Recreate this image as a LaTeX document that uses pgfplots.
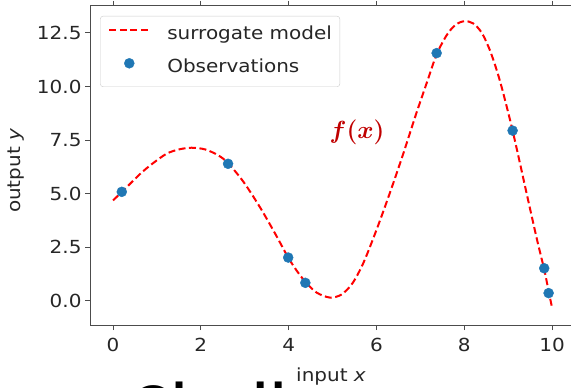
\documentclass[border=0pt]{standalone}
\usepackage{fontspec}
\setmainfont{DejaVu Sans}[FakeStretch=1.11]
\newfontfamily\carlito{Carlito}
\usepackage{pgfplots}
\pgfplotsset{compat=1.18}
\definecolor{mplblue}{RGB}{31,119,180}
\definecolor{fxred}{RGB}{192,0,0}
\newcommand\tfont{\fontsize{18bp}{21.6bp}\selectfont}
\begin{document}
\begin{tikzpicture}
\useasboundingbox (0,0) rectangle (571bp,388bp);
\clip (0,0) rectangle (571bp,388bp);
\begin{axis}[
  at={(90bp,63bp)}, anchor=south west,
  scale only axis, width=481bp, height=319bp,
  xmin=-0.524, xmax=10.43, ymin=-1.14, ymax=13.76,
  axis x line=box, axis y line*=left,
  axis line style={black!70, line width=1bp},
  xtick={0,2,4,6,8,10},
  ytick={0,2.5,5,7.5,10,12.5},
  tick align=outside, major tick length=5bp,
  every tick/.style={black!70, line width=1bp},
  tick label style={font=\tfont, text=black!85},
  xticklabel style={yshift=-5bp},
  /pgf/number format/assume math mode=true,
  yticklabel style={/pgf/number format/.cd, fixed, fixed zerofill, precision=1},
  xlabel={input {\itshape x}},
  ylabel={output {\itshape y}},
  every axis x label/.style={at={(axis description cs:0.501,0)}, anchor=base, yshift=-56bp, font=\tfont, text=black!85},
  every axis y label/.style={at={(axis description cs:0,0.483)}, anchor=center, rotate=90, yshift=74bp, font=\tfont, text=black!85},
  legend cell align=left,
  legend style={at={(0.021,0.969)}, anchor=north west, rounded corners=3bp,
    draw=black!20, fill=white, font=\tfont, text=black!85,
    inner xsep=8bp, inner ysep=10bp, row sep=15bp,
    nodes={inner sep=0pt, text height=13bp, text depth=4bp}},
]
\addplot[red, line width=2bp, dash pattern=on 7bp off 3.5bp, smooth, tension=0.5,
  legend image code/.code={\draw[line width=2bp, dash pattern=on 7bp off 3.5bp] (0bp,5bp) -- (40bp,5bp); \path (57bp,5bp);}]
  coordinates {
  (0.00,4.68) (0.20,5.07) (0.62,5.92) (0.90,6.40) (1.22,6.86) (1.50,7.06) (1.79,7.14)
  (2.10,7.06) (2.40,6.78) (2.62,6.42) (2.97,5.55) (3.35,4.35) (3.70,3.10)
  (3.99,2.01) (4.20,1.35) (4.40,0.83) (4.64,0.37) (4.94,0.14) (5.20,0.28)
  (5.45,0.80) (5.70,1.75) (6.00,3.30) (6.30,5.00) (6.60,6.80) (6.90,8.70)
  (7.15,10.20) (7.37,11.50) (7.60,12.40) (7.80,12.88) (8.00,13.05) (8.20,12.95)
  (8.40,12.50) (8.60,11.60) (8.82,10.20) (9.10,7.94) (9.42,5.00) (9.65,2.90)
  (9.82,1.45) (9.92,0.45) (10.00,-0.35)
  };
\addlegendentry{surrogate model}
\addplot[only marks, mark=*, mark size=5bp, mplblue, mark options={draw=mplblue, fill=mplblue},
  legend image code/.code={\fill[mplblue] (20bp,5bp) circle (5bp); \path (0bp,5bp) (57bp,5bp);}]
  coordinates {
  (0.20,5.08) (2.62,6.39) (3.99,2.01) (4.38,0.83) (7.37,11.56) (9.10,7.94) (9.82,1.51) (9.92,0.35)
  };
\addlegendentry{Observations}
\node[text=fxred, font=\fontsize{30bp}{34bp}\selectfont\boldmath] at (axis cs:5.56,7.88) {$f(x)$};
\end{axis}
\node[anchor=base west, inner sep=0pt, font=\carlito\fontsize{80bp}{90bp}\selectfont, text=black] at (128bp,-49bp) {Challenges};
\end{tikzpicture}
\end{document}
